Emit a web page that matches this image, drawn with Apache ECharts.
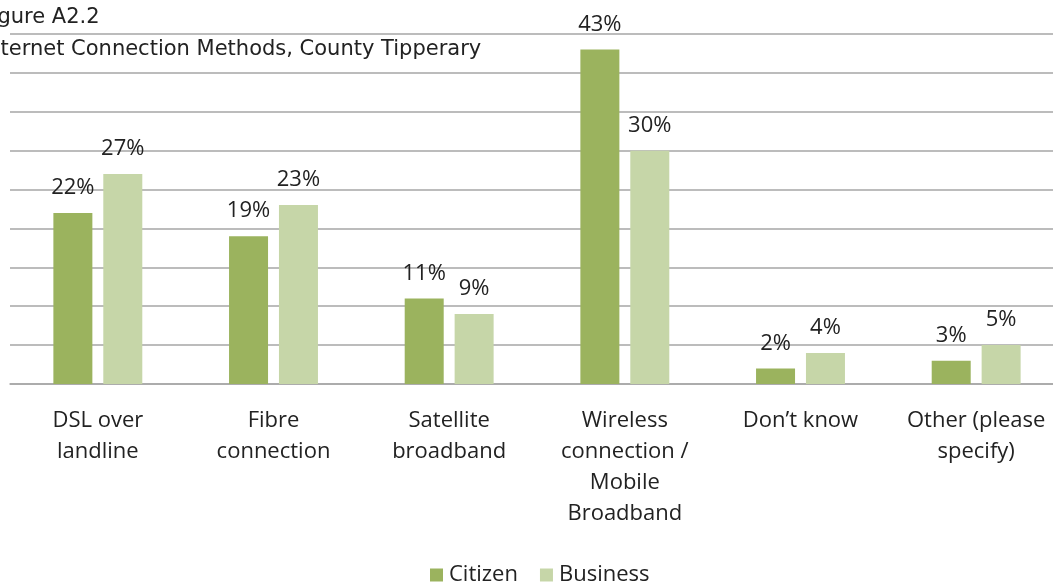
<!DOCTYPE html>
<html>
<head>
<meta charset="utf-8">
<style>
  html, body { margin: 0; padding: 0; background: #fff; overflow: hidden; }
  /* plot runs a little past the right edge of the window */
  #chart { width: 1064px; height: 584px; }
</style>
<script src="https://cdn.jsdelivr.net/npm/echarts@6/dist/echarts.min.js"></script>
</head>
<body>
<div id="chart"></div>
<script>
// Survey responses: how people connect to the internet (percent of respondents)
const categories = [
  'DSL over\nlandline',
  'Fibre\nconnection',
  'Satellite\nbroadband',
  'Wireless\nconnection /\nMobile\nBroadband',
  'Don\u2019t know',
  'Other (please\nspecify)'
];
const citizen = [22, 19, 11, 43, 2, 3];
const business = [27, 23, 9, 30, 4, 5];
const seriesNames = ['Citizen', 'Business'];
const titleLines = ['Figure A2.2', 'Internet Connection Methods, County Tipperary'];

const labelFont = '"Open Sans", Lato, sans-serif';
const titleFont = '"DejaVu Sans", sans-serif';
const textColor = '#222';

const chart = echarts.init(document.getElementById('chart'), null, { renderer: 'canvas' });

const dataLabel = {
  show: true,
  position: 'top',
  distance: 14,
  formatter: p => p.value + '%',
  fontFamily: labelFont,
  fontSize: 22,
  color: textColor
};

chart.setOption({
  animation: false,
  backgroundColor: '#fff',
  graphic: [
    { type: 'text', x: -19, y: 7, style: { text: titleLines[0], font: '21px ' + titleFont, fill: textColor } },
    { type: 'text', x: -19, y: 39, style: { text: titleLines[1], font: '21px ' + titleFont, fill: textColor } }
  ],
  legend: {
    data: seriesNames,
    left: 425,
    top: 559,
    itemWidth: 13,
    itemHeight: 13,
    itemGap: 22,
    icon: 'rect',
    textStyle: { fontFamily: labelFont, fontSize: 22, color: textColor, padding: [0, 0, 0, 1] }
  },
  grid: { left: 10, right: 0, top: 34, bottom: 200, containLabel: false },
  xAxis: {
    type: 'category',
    data: categories,
    axisLine: { show: true, lineStyle: { color: '#a6a6a6', width: 1.5 } },
    axisTick: { show: false },
    axisLabel: {
      interval: 0,
      margin: 21,
      fontFamily: labelFont,
      fontSize: 22,
      lineHeight: 31,
      color: textColor
    }
  },
  yAxis: {
    type: 'value',
    min: 0,
    max: 45,
    interval: 5,
    axisLabel: { show: false },
    axisLine: { show: false },
    axisTick: { show: false },
    splitLine: { lineStyle: { color: '#a6a6a6', width: 1.5 } }
  },
  series: [
    {
      name: seriesNames[0],
      type: 'bar',
      data: citizen,
      barWidth: 39,
      barGap: '28%',
      itemStyle: { color: '#9bb35e' },
      label: dataLabel
    },
    {
      name: seriesNames[1],
      type: 'bar',
      data: business,
      barWidth: 39,
      itemStyle: { color: '#c6d6a8' },
      label: dataLabel
    }
  ]
});
</script>
</body>
</html>
